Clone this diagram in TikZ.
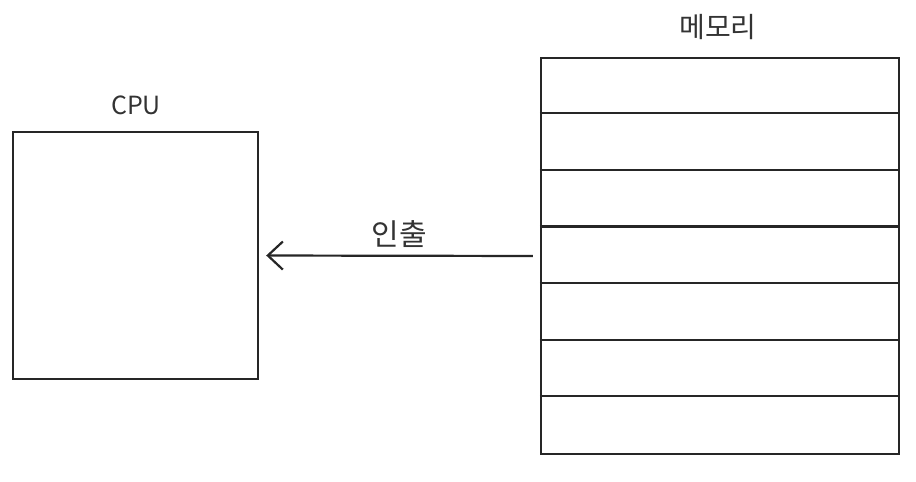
\documentclass[tikz,border=0pt]{standalone}
\usepackage{fontspec}
\newfontfamily\kr{Noto Sans CJK KR}
\usetikzlibrary{arrows.meta}
\begin{document}
\begin{tikzpicture}[x=1pt,y=-1pt,
  box/.style={draw=black!85,line width=2.4pt,inner sep=0pt},
  rowline/.style={draw=black!85,line width=2.2pt},
  lbl/.style={font=\kr,text=black!80,inner sep=0pt}]
\useasboundingbox (0,0) rectangle (916,482);
\node[box,minimum width=245pt,minimum height=247pt] (cpu) at (135.5,255.5) {};
\node[box,minimum width=358pt,minimum height=396pt] (mem) at (720,256) {};
\foreach \i in {1,...,6}{
  \draw[rowline] ([yshift=-\i*56.57pt]mem.north west) -- ([yshift=-\i*56.57pt]mem.north east);
}
\node[lbl,font=\kr\fontsize{25}{25}\selectfont] (cpul) at (136,105) {CPU};
\node[lbl,font=\kr\fontsize{28}{28}\selectfont] (meml) at (718,27) {메모리};
\coordinate (src) at (mem.west);
\draw[line width=2.2pt,black!85,-{Straight Barb[length=15pt,width=28pt,line width=2.2pt]},shorten <=7pt,shorten >=7pt] (src) -- (cpu.east) node[lbl,midway,font=\kr\fontsize{30}{30}\selectfont,yshift=22pt] (fetch) {인출};
\end{tikzpicture}
\end{document}
